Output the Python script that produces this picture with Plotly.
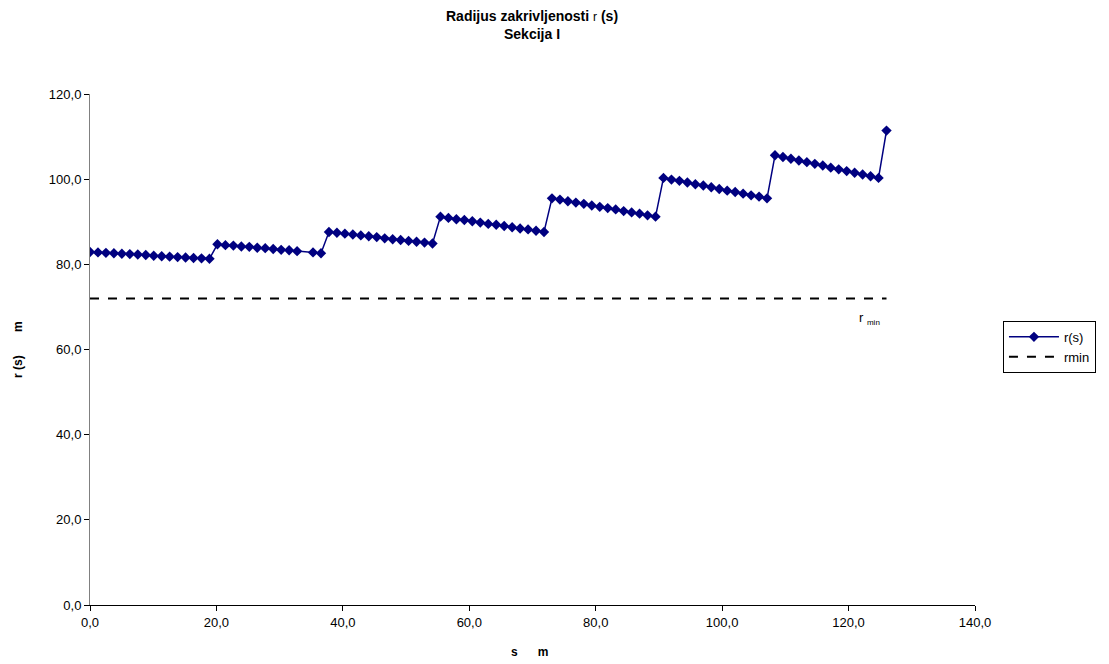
import plotly.graph_objects as go

# s positions (m) of the plotted points
s_vals = [0.00, 1.26, 2.52, 3.78, 5.04, 6.30, 7.56, 8.82, 10.08, 11.34, 12.60, 13.86, 15.12, 16.38, 17.64, 18.90,
          20.16, 21.42, 22.68, 23.94, 25.20, 26.46, 27.72, 28.98, 30.24, 31.50, 32.76, 35.28, 36.54,
          37.80, 39.06, 40.32, 41.58, 42.84, 44.10, 45.36, 46.62, 47.88, 49.14, 50.40, 51.66, 52.92, 54.18,
          55.44, 56.70, 57.96, 59.22, 60.48, 61.74, 63.00, 64.26, 65.52, 66.78, 68.04, 69.30, 70.56, 71.82,
          73.08, 74.34, 75.60, 76.86, 78.12, 79.38, 80.64, 81.90, 83.16, 84.42, 85.68, 86.94, 88.20, 89.46,
          90.72, 91.98, 93.24, 94.50, 95.76, 97.02, 98.28, 99.54, 100.80, 102.06, 103.32, 104.58, 105.84, 107.10,
          108.36, 109.62, 110.88, 112.14, 113.40, 114.66, 115.92, 117.18, 118.44, 119.70, 120.96, 122.22, 123.48, 124.74,
          126.00]

# radius of curvature r(s) (m)
r_vals = [82.9, 82.8, 82.7, 82.6, 82.5, 82.4, 82.3, 82.2, 82.0, 81.9, 81.8, 81.7, 81.6, 81.5, 81.4, 81.3,
          84.7, 84.5, 84.4, 84.2, 84.1, 83.9, 83.8, 83.6, 83.4, 83.3, 83.1, 82.8, 82.6,
          87.6, 87.4, 87.2, 87.0, 86.8, 86.6, 86.4, 86.1, 85.9, 85.7, 85.5, 85.3, 85.1, 84.9,
          91.2, 90.9, 90.6, 90.4, 90.1, 89.8, 89.5, 89.3, 89.0, 88.7, 88.4, 88.2, 87.9, 87.6,
          95.5, 95.2, 94.8, 94.5, 94.2, 93.8, 93.5, 93.2, 92.9, 92.5, 92.2, 91.9, 91.5, 91.2,
          100.3, 99.9, 99.6, 99.2, 98.8, 98.5, 98.1, 97.7, 97.3, 97.0, 96.6, 96.2, 95.9, 95.5,
          105.6, 105.2, 104.8, 104.4, 104.0, 103.6, 103.2, 102.7, 102.3, 101.9, 101.5, 101.1, 100.7, 100.3,
          111.4]

rmin_s = [0.0, 126.0]
rmin_vals = [72.0, 72.0]

x_ticks = [0, 20, 40, 60, 80, 100, 120, 140]
y_ticks = [0, 20, 40, 60, 80, 100, 120]

FONT = "Liberation Sans, Arial, sans-serif"

fig = go.Figure()
fig.add_trace(go.Scatter(
    x=s_vals, y=r_vals, name="r(s)", mode="lines+markers",
    line=dict(color="#000080", width=1.5),
    marker=dict(symbol="diamond", size=8, color="#000080"),
))
fig.add_trace(go.Scatter(
    x=rmin_s, y=rmin_vals, name="rmin", mode="lines",
    line=dict(color="black", width=2, dash="dash"),
))

# r_min label
fig.add_annotation(x=123.3, y=67.3, xref="x", yref="y", showarrow=False,
                   text="r <sub><span style='font-size:8px;color:black'>min</span></sub>",
                   font=dict(family=FONT, size=13, color="black"))

# title (two lines)
fig.add_annotation(x=0.4994, y=1.135, xref="paper", yref="paper", showarrow=False,
                   xanchor="center", yanchor="middle",
                   text="<b>Radijus zakrivljenosti </b><span style='font-size:12px'>r</span><b> (s)</b><br><b>Sekcija I</b>",
                   font=dict(family=FONT, size=14, color="black"))

# axis titles
fig.add_annotation(x=0.497, y=-0.092, xref="paper", yref="paper", showarrow=False,
                   text="<b>s      m</b>", xanchor="center", yanchor="middle",
                   font=dict(family=FONT, size=12, color="black"))
fig.add_annotation(x=-0.082, y=0.50, xref="paper", yref="paper", showarrow=False,
                   text="<b>r (s)       m</b>", textangle=-90, xanchor="center", yanchor="middle",
                   font=dict(family=FONT, size=12, color="black"))

fig.update_layout(
    width=1101, height=656,
    paper_bgcolor="white", plot_bgcolor="white",
    margin=dict(l=82, r=134, t=86, b=59),
    separators=",.",
    font=dict(family=FONT, size=12, color="black"),
    xaxis=dict(
        range=[0, 140], tickvals=x_ticks, tickformat=".1f",
        showline=True, linecolor="black", linewidth=1,
        ticks="outside", ticklen=5, tickcolor="black",
        showgrid=False, zeroline=False, automargin=False,
        tickfont=dict(family=FONT, size=13),
    ),
    yaxis=dict(
        range=[0, 120], tickvals=y_ticks, tickformat=".1f",
        showline=True, linecolor="#808080", linewidth=1,
        ticks="outside", ticklen=5, tickcolor="black",
        showgrid=False, zeroline=False, automargin=False,
        tickfont=dict(family=FONT, size=13),
    ),
    legend=dict(
        x=1.0316, y=0.556, xanchor="left", yanchor="top",
        bordercolor="black", borderwidth=1, bgcolor="white",
        font=dict(family=FONT, size=13), tracegroupgap=0,
        itemwidth=50,
    ),
)

fig.write_html("out.html")
